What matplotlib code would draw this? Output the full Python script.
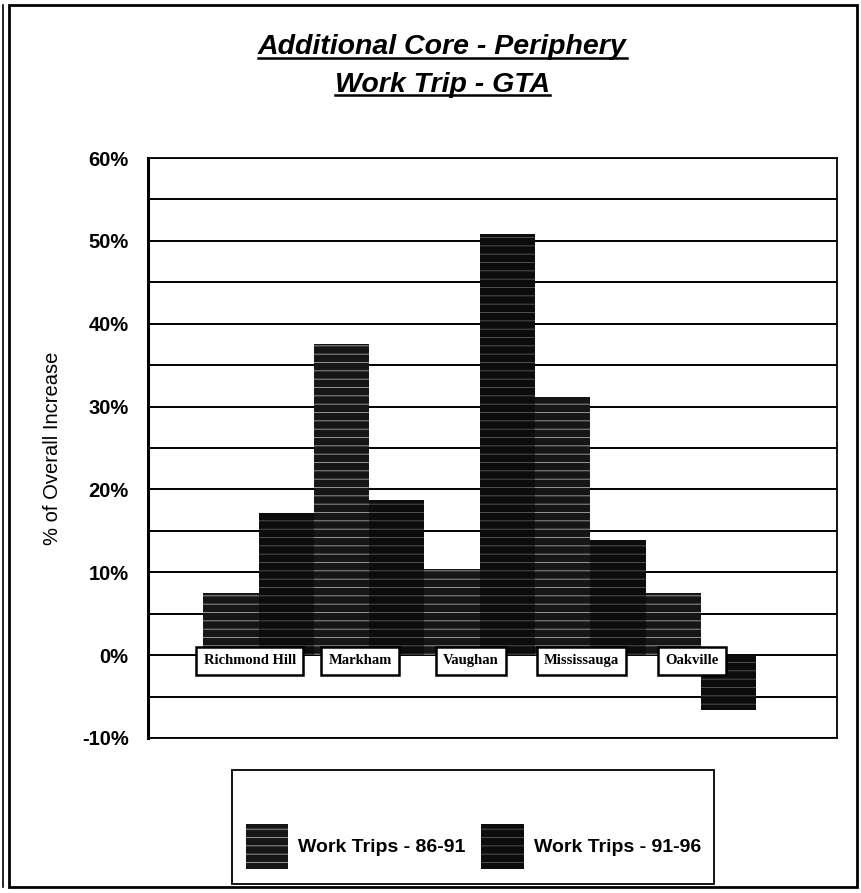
import numpy as np
import matplotlib
matplotlib.use("Agg")
import matplotlib.pyplot as plt
from matplotlib.patches import Rectangle, Patch
from matplotlib.lines import Line2D
from matplotlib.ticker import FuncFormatter, MultipleLocator

plt.rcParams['font.family'] = ['Liberation Sans', 'DejaVu Sans']
plt.rcParams['hatch.linewidth'] = 0.6

# Share of overall increase in work trips, by municipality
places = ["Richmond Hill", "Markham", "Vaughan", "Mississauga", "Oakville"]
trips_86_91 = [7.5, 37.6, 10.4, 31.1, 7.5]
trips_91_96 = [17.1, 18.7, 50.8, 13.9, -6.6]
series_names = ["Work Trips - 86-91", "Work Trips - 91-96"]

fig = plt.figure(figsize=(8.62, 8.93), dpi=100)
ax = fig.add_axes([0.1717, 0.1736, 0.7993, 0.6494])

x = np.arange(len(places))
w = 0.5
ax.bar(x - w / 2, trips_86_91, w, color="#161616", edgecolor="#a8a8a8",
       hatch="--", linewidth=0, zorder=3)
ax.bar(x + w / 2, trips_91_96, w, color="#0c0c0c", edgecolor="#5a5a5a",
       hatch="--", linewidth=0, zorder=3)

ax.set_xlim(-1.0, 5.23)
ax.set_ylim(-10, 60)
ax.yaxis.set_major_locator(MultipleLocator(10))
ax.yaxis.set_minor_locator(MultipleLocator(5))
ax.yaxis.set_major_formatter(FuncFormatter(lambda v, p: f"{v:.0f}%"))
ax.grid(axis="y", which="both", color="black", linewidth=1.4, zorder=1)
ax.set_xticks([])
ax.tick_params(axis="y", which="both", length=0, pad=14)
for lab in ax.get_yticklabels():
    lab.set_fontsize(14.5)
    lab.set_fontweight("bold")
for side, spine in ax.spines.items():
    spine.set_linewidth(1.3)
ax.spines["left"].set_linewidth(2.2)
ax.set_ylabel("% of Overall Increase", fontsize=14.5, labelpad=14)

# Boxed category names sitting just under the zero line
for xi, name in zip(x, places):
    ax.text(xi - 0.08, -0.7, name, ha="center", va="center", fontsize=10.5,
            fontweight="bold", family=["Liberation Serif", "DejaVu Serif"],
            zorder=5,
            bbox=dict(boxstyle="square,pad=0.5", facecolor="white",
                      edgecolor="black", linewidth=1.8))

# Title, underlined line by line
t1 = fig.text(0.513, 0.947, "Additional Core - Periphery", ha="center",
              va="center", fontsize=20.5, fontweight="bold", style="italic")
t2 = fig.text(0.513, 0.905, "Work Trip - GTA", ha="center", va="center",
              fontsize=20.5, fontweight="bold", style="italic")
fig.canvas.draw()
r = fig.canvas.get_renderer()
for t in (t1, t2):
    bb = t.get_window_extent(r).transformed(fig.transFigure.inverted())
    yline = bb.y0 + 0.003
    fig.add_artist(Line2D([bb.x0, bb.x1], [yline, yline],
                          transform=fig.transFigure, color="black",
                          linewidth=1.8))

# Legend with its own frame
fig.add_artist(Rectangle((0.269, 0.010), 0.559, 0.128,
                         transform=fig.transFigure, facecolor="white",
                         edgecolor="black", linewidth=1.3))
handles = [Patch(facecolor="#161616", edgecolor="#a8a8a8", hatch="--",
                 linewidth=0),
           Patch(facecolor="#0c0c0c", edgecolor="#5a5a5a", hatch="--",
                 linewidth=0)]
fig.legend(handles, series_names, loc="center",
           bbox_to_anchor=(0.549, 0.052), ncol=2, frameon=False,
           prop=dict(size=14, weight="bold"), handlelength=2.2,
           handleheight=3.2, columnspacing=0.8, handletextpad=0.5)

# Page border
fig.add_artist(Rectangle((0.011, 0.007), 0.983, 0.987,
                         transform=fig.transFigure, fill=False,
                         edgecolor="black", linewidth=2))
fig.add_artist(Line2D([0.004, 0.004], [0.007, 0.994],
                      transform=fig.transFigure, color="black",
                      linewidth=1.2))

fig.savefig("out.png", dpi=100)
